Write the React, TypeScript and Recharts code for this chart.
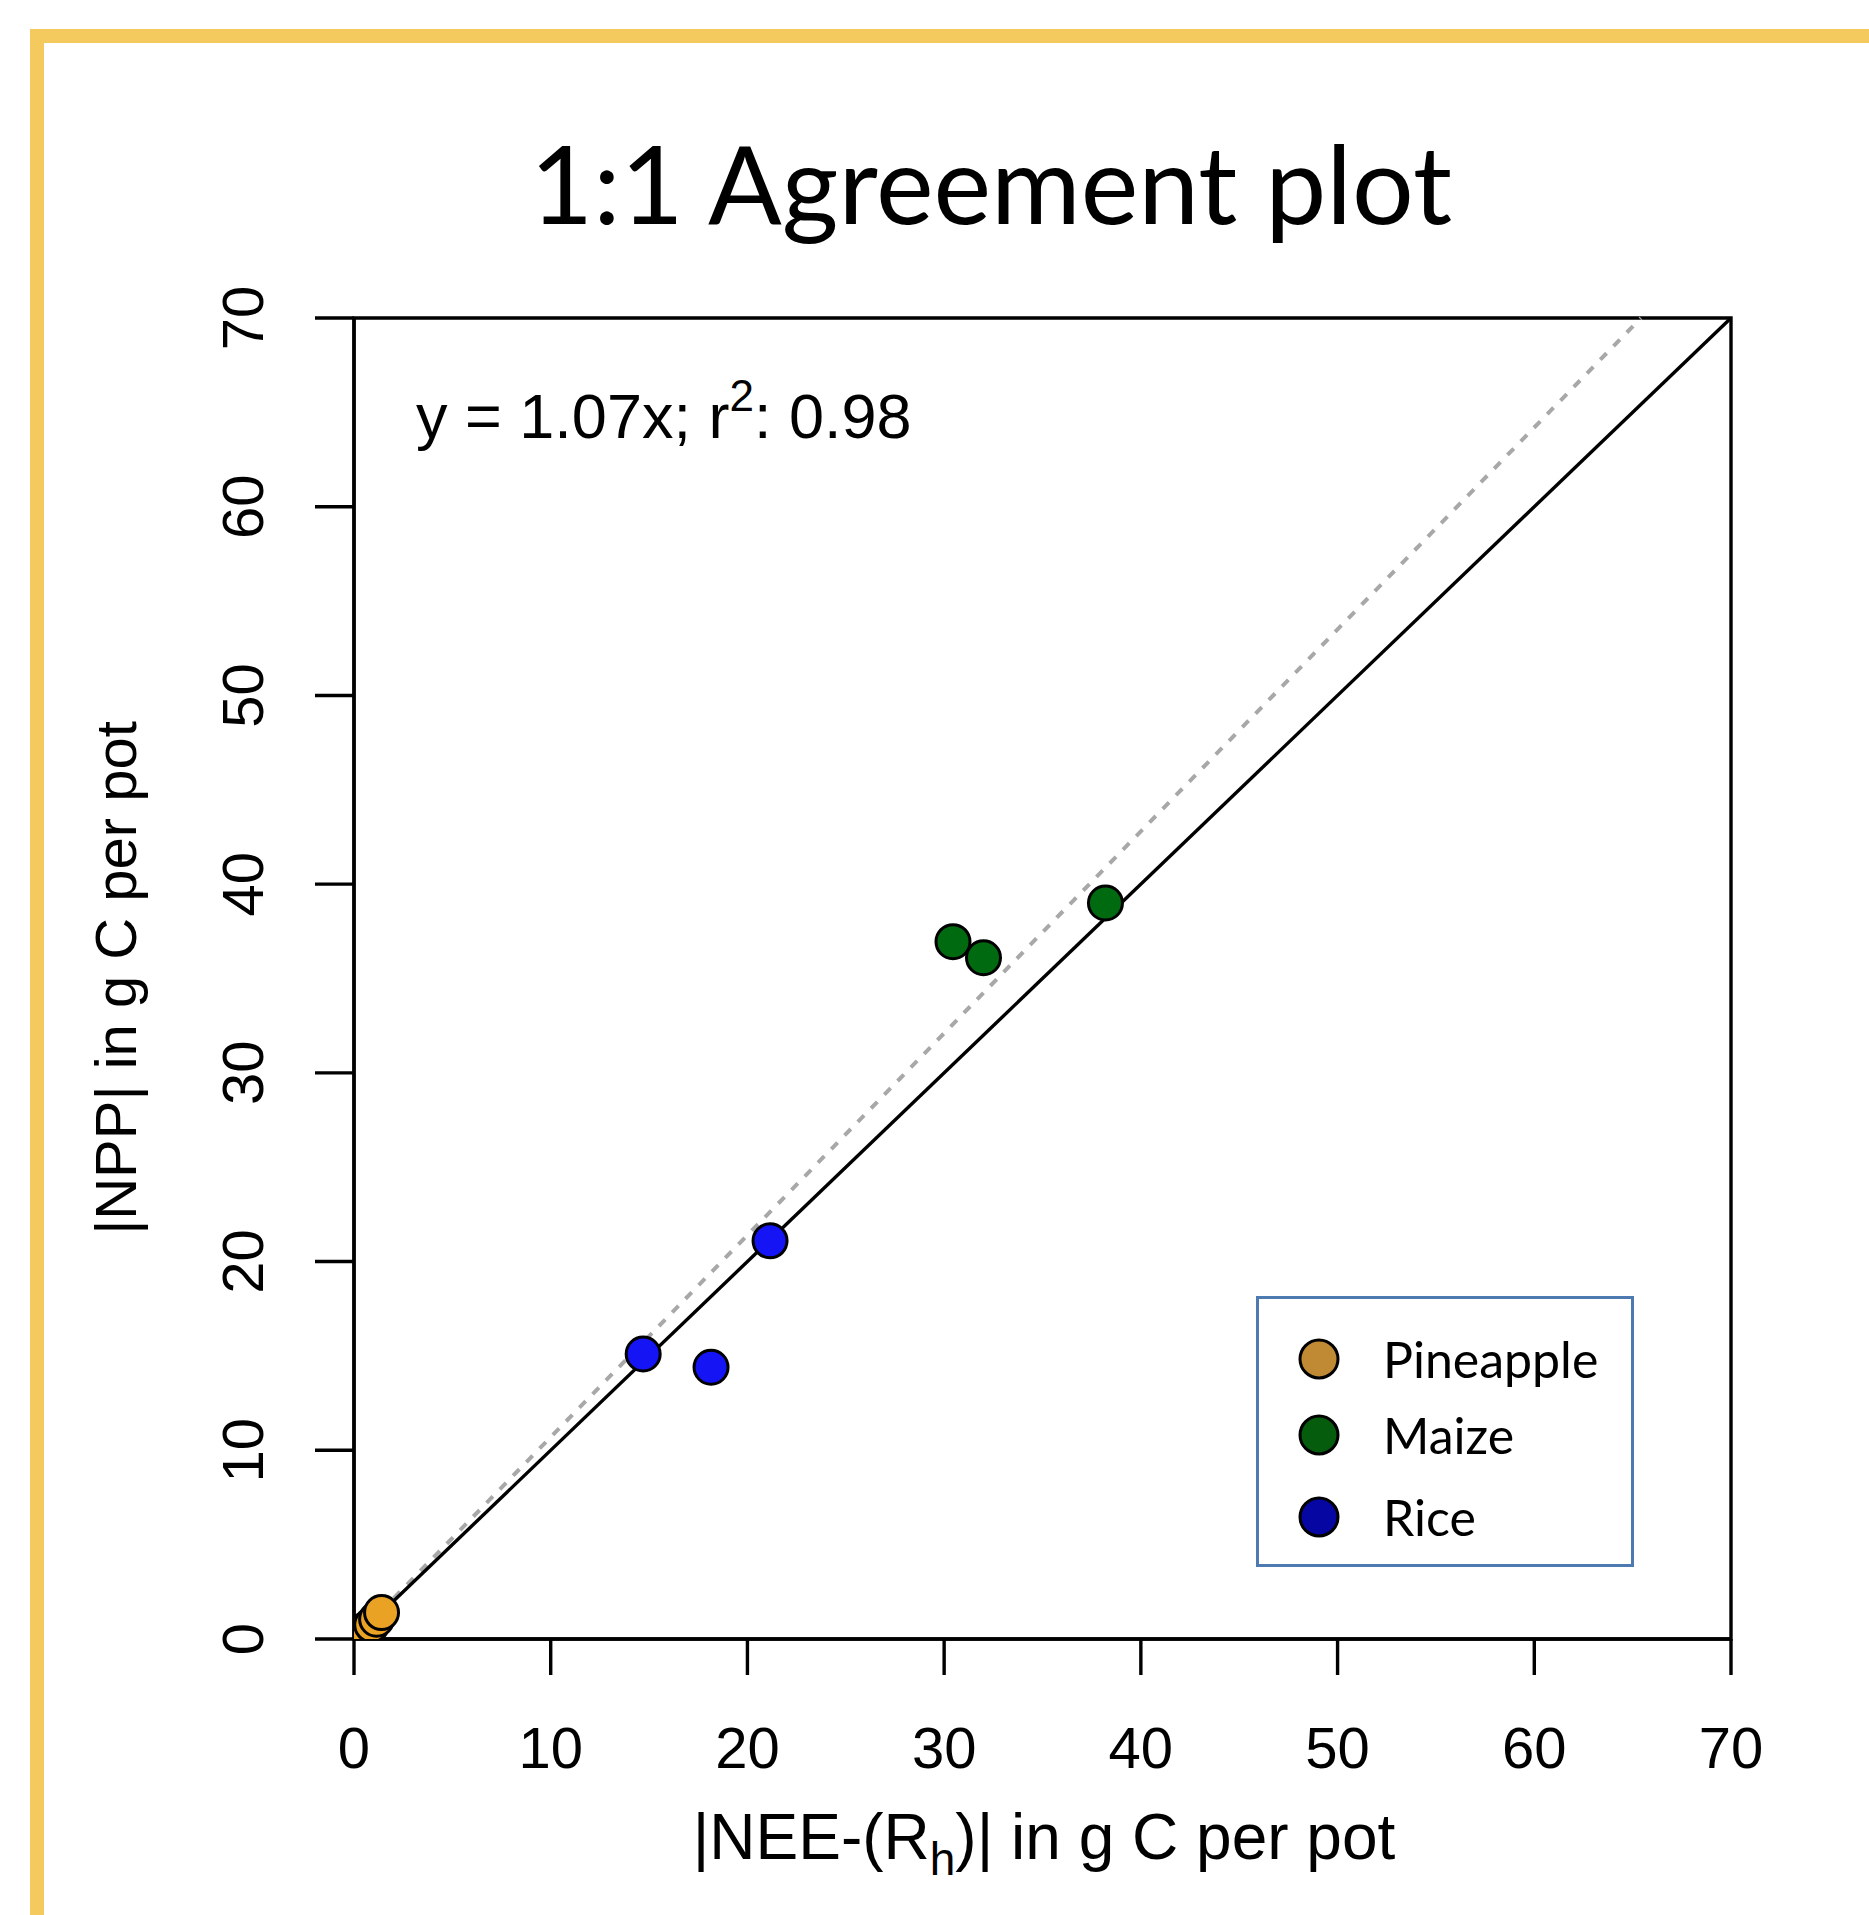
import React from 'react';
import {
  ScatterChart,
  Scatter,
  XAxis,
  YAxis,
  ReferenceLine,
  ReferenceArea,
  Legend,
  Customized,
} from 'recharts';

const axisTicks = [0, 10, 20, 30, 40, 50, 60, 70];

const pineappleX = [0.6, 0.9, 1.15, 1.4];
const pineappleY = [0.5, 0.75, 1.05, 1.4];
const maizeX = [30.45, 32.0, 38.2];
const maizeY = [36.95, 36.1, 39.0];
const riceX = [14.7, 18.15, 21.15];
const riceY = [15.1, 14.4, 21.1];

const fitSlope = 1.07;
const fitR2 = 0.98;

const crops = ['Pineapple', 'Maize', 'Rice'];
const pointColors = ['#E9A224', '#006A10', '#1414F5'];
const legendColors = ['#C08A34', '#045C0C', '#0606A2'];

const toPoints = (xs: number[], ys: number[]) => xs.map((x, i) => ({ x, y: ys[i] }));
const seriesData = [
  toPoints(pineappleX, pineappleY),
  toPoints(maizeX, maizeY),
  toPoints(riceX, riceY),
];

const W = 1869;
const H = 1915;
const AX = '"Liberation Sans", Arial, sans-serif';
const CAL = 'Lato, "Open Sans", sans-serif';
const LW = 3.4;

const XTick = (props: any) => {
  const { x, y, payload } = props;
  return (
    <text x={x} y={y + 91} textAnchor="middle" fontFamily={AX} fontSize={58} fill="#000">
      {payload.value}
    </text>
  );
};

const YTick = (props: any) => {
  const { x, y, payload } = props;
  const bx = x - 50;
  return (
    <text
      x={bx}
      y={y}
      textAnchor="middle"
      transform={`rotate(-90, ${bx}, ${y})`}
      fontFamily={AX}
      fontSize={58}
      fill="#000"
    >
      {payload.value}
    </text>
  );
};

const dot = (color: string) => (props: any) => (
  <circle cx={props.cx} cy={props.cy} r={17} fill={color} stroke="#000" strokeWidth={3} />
);

const Texts = () => (
  <g>
    <text x={991} y={224} textAnchor="middle" fontFamily={CAL} fontSize={109} fill="#000">
      1:1 Agreement plot
    </text>
    <text x={416} y={438} fontFamily={AX} fontSize={63} fill="#000">
      y = 1.07x; r<tspan dy={-27} fontSize={44}>2</tspan>
      <tspan dy={27}>: {fitR2.toFixed(2)}</tspan>
    </text>
    <text x={1044} y={1859} textAnchor="middle" fontFamily={AX} fontSize={64} fill="#000">
      |NEE-(R<tspan dy={16} fontSize={46}>h</tspan>
      <tspan dy={-16}>)| in g C per pot</tspan>
    </text>
    <text
      x={136}
      y={978}
      textAnchor="middle"
      transform="rotate(-90, 136, 978)"
      fontFamily={AX}
      fontSize={58}
      fill="#000"
    >
      |NPP| in g C per pot
    </text>
  </g>
);

const LegendBox = () => (
  <div
    style={{
      width: 372,
      height: 265,
      border: '3px solid #4D7BB1',
      background: '#fff',
      position: 'relative',
      boxSizing: 'content-box',
    }}
  >
    {crops.map((name, i) => (
      <div
        key={name}
        style={{
          position: 'absolute',
          left: 0,
          top: [62, 138, 220][i] - 32,
          height: 60,
          display: 'flex',
          alignItems: 'center',
        }}
      >
        <svg width={120} height={60} style={{ display: 'block' }}>
          <circle cx={60} cy={30} r={19} fill={legendColors[i]} stroke="#000" strokeWidth={3} />
        </svg>
        <span style={{ fontFamily: CAL, fontSize: 50, color: '#000', marginLeft: 4 }}>{name}</span>
      </div>
    ))}
  </div>
);

export default function App() {
  return (
    <div
      style={{
        position: 'absolute',
        left: 0,
        top: 0,
        width: W,
        height: H,
        background: '#fff',
        overflow: 'hidden',
      }}
    >
      <div
        style={{
          position: 'absolute',
          left: 30,
          top: 29,
          width: W + 100,
          height: H + 100,
          borderLeft: '14px solid #F4CA5E',
          borderTop: '14px solid #F4CA5E',
        }}
      />
      <ScatterChart
        width={W}
        height={H}
        margin={{ top: 318, right: 138, bottom: 246, left: 294 }}
      >
        <XAxis
          type="number"
          dataKey="x"
          domain={[0, 70]}
          ticks={axisTicks}
          interval={0}
          height={30}
          tickSize={36}
          tick={<XTick />}
          tickLine={{ stroke: '#000', strokeWidth: LW }}
          axisLine={{ stroke: '#000', strokeWidth: LW }}
          allowDataOverflow
        />
        <YAxis
          type="number"
          dataKey="y"
          domain={[0, 70]}
          ticks={axisTicks}
          interval={0}
          width={60}
          tickSize={39}
          tick={<YTick />}
          tickLine={{ stroke: '#000', strokeWidth: LW }}
          axisLine={{ stroke: '#000', strokeWidth: LW }}
          allowDataOverflow
        />
        <ReferenceArea x1={0} x2={70} y1={0} y2={70} fill="none" stroke="#000" strokeWidth={LW} />
        {crops.map((name, i) => (
          <Scatter
            key={name}
            name={name}
            data={seriesData[i]}
            fill={pointColors[i]}
            shape={dot(pointColors[i])}
            isAnimationActive={false}
          />
        ))}
        <ReferenceLine
          segment={[{ x: 0, y: 0 }, { x: 70 / fitSlope, y: 70 }]}
          stroke="#A8A8A8"
          strokeWidth={4}
          strokeDasharray="9 10"
        />
        <ReferenceLine
          segment={[{ x: 0, y: 0 }, { x: 70, y: 70 }]}
          stroke="#000"
          strokeWidth={LW}
        />
        <Legend
          layout="vertical"
          align="center"
          verticalAlign="middle"
          content={<LegendBox />}
          wrapperStyle={{ position: 'absolute', left: 1256, top: 1296, width: 'auto', height: 'auto' }}
        />
        <Customized component={<Texts />} />
      </ScatterChart>
    </div>
  );
}
